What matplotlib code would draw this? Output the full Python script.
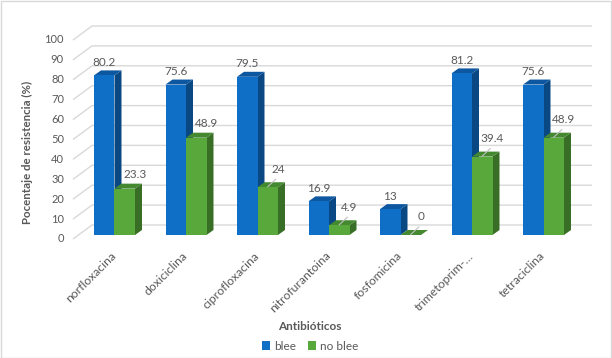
import matplotlib
matplotlib.use('Agg')
import matplotlib.pyplot as plt
from matplotlib.patches import Polygon, Rectangle, Patch

# ---------------- data ----------------
categories = ['norfloxacina', 'doxiciclina', 'ciprofloxacina', 'nitrofurantoina',
              'fosfomicina', 'trimetoprim-…', 'tetraciclina']
blee = [80.2, 75.6, 79.5, 16.9, 13, 81.2, 75.6]
no_blee = [23.3, 48.9, 24, 4.9, 0, 39.4, 48.9]
blee_labels = ['80.2', '75.6', '79.5', '16.9', '13', '81.2', '75.6']
no_blee_labels = ['23.3', '48.9', '24', '4.9', '0', '39.4', '48.9']
leader = [False, False, True, True, True, True, True]
y_ticks = [0, 10, 20, 30, 40, 50, 60, 70, 80, 90, 100]
series_names = ['blee', 'no blee']
x_title = 'Antibióticos'
y_title = 'Pocentaje de resistencia (%)'

# ---------------- style ----------------
plt.rcParams['font.family'] = ['Lato', 'DejaVu Sans']
TXT = '#595959'
BLUE = ('#0F6FC6', '#0A4883', '#0C57A0')   # front, side, top
GREEN = ('#58A83B', '#386E26', '#44882F')
GRID = '#D9D9D9'

W, H = 612, 358
fig = plt.figure(figsize=(W / 100, H / 100), dpi=100)
left_px, right_px = 78.75, 579.25
bot_px, top_px = 235, 36
ax = fig.add_axes([left_px / W, 1 - bot_px / H, (right_px - left_px) / W, (bot_px - top_px) / H])
ax.set_xlim(-0.5, len(categories) - 0.5)
ax.set_ylim(0, 100)
ax.axis('off')

sx = (right_px - left_px) / len(categories)   # px per category unit
sy = (bot_px - top_px) / 100.0                # px per percent unit

def px2x(p):
    return -0.5 + (p - left_px) / sx

w = 20.5 / sx
ddx, ddy = 7 / sx, 5 / sy

# back wall gridlines (perspective)
xfl, xbl, xbr = px2x(73), px2x(92), px2x(592)
for v in y_ticks:
    ax.plot([xfl, xbl, xbr], [v - 4 / sy, v + 10 / sy, v + 10 / sy], color=GRID, lw=1,
            clip_on=False, zorder=1, solid_capstyle='butt')
    ax.text(px2x(64), v - 4 / sy, str(v), ha='right', va='center', fontsize=8, color=TXT)

xs = list(range(len(categories)))

def draw_3d(x0s, vals, cols, z):
    ax.bar(x0s, vals, width=w, align='edge', color=cols[0], zorder=z + 1, linewidth=0)
    for x0, v in zip(x0s, vals):
        side = [(x0 + w, 0), (x0 + w + ddx, ddy), (x0 + w + ddx, v + ddy), (x0 + w, v)]
        top = [(x0, v), (x0 + ddx, v + ddy), (x0 + w + ddx, v + ddy), (x0 + w, v)]
        ax.add_patch(Polygon(side, closed=True, fc=cols[1], ec='none', zorder=z, clip_on=False))
        ax.add_patch(Polygon(top, closed=True, fc=cols[2], ec='none', zorder=z, clip_on=False))

draw_3d([x - w for x in xs], blee, BLUE, 2)
draw_3d([x for x in xs], no_blee, GREEN, 4)

# data labels
for x, v, lab in zip(xs, blee, blee_labels):
    ax.text(x - w / 2, v + 13 / sy, lab, ha='center', va='center', fontsize=8.5, color=TXT,
            clip_on=False, zorder=6)
for x, v, lab, ld in zip(xs, no_blee, no_blee_labels, leader):
    gc = x + w / 2
    off = 18 if ld else 14.5
    ax.text(gc + 10 / sx, v + off / sy, lab, ha='center', va='center', fontsize=8.5,
            color=TXT, clip_on=False, zorder=6)
    if ld:
        ax.plot([gc, gc + 8 / sx], [v + 0.5 / sy, v + 8 / sy], color='#BFBFBF', lw=0.8,
                zorder=7, clip_on=False)

# category labels
for x, lab in zip(xs, categories):
    ax.text(x - 4 / sx, -15 / sy, lab, rotation=45, rotation_mode='anchor', ha='right',
            va='top', fontsize=8.8, color=TXT, clip_on=False)

# titles
fig.text(310 / W, 1 - 326 / H, x_title, ha='center', va='center', fontsize=8.5,
         fontweight='bold', color=TXT)
fig.text(27 / W, 1 - 152 / H, y_title, ha='center', va='center', rotation=90,
         fontsize=8.3, fontweight='bold', color=TXT)

# legend
handles = [Patch(facecolor=BLUE[0]), Patch(facecolor=GREEN[0])]
leg = fig.legend(handles, series_names, loc='center', bbox_to_anchor=(310 / W, 1 - 346 / H),
                 ncol=2, frameon=False, handlelength=0.7, handleheight=0.7,
                 handletextpad=0.35, columnspacing=1.0, fontsize=8.5, borderpad=0)
for t in leg.get_texts():
    t.set_color(TXT)

# chart border
fig.add_artist(Rectangle((0.5 / W, 0.5 / H), 1 - 1.5 / W, 1 - 1.5 / H, transform=fig.transFigure,
                         fill=False, ec=GRID, lw=1))

fig.savefig('out.png', dpi=100)
